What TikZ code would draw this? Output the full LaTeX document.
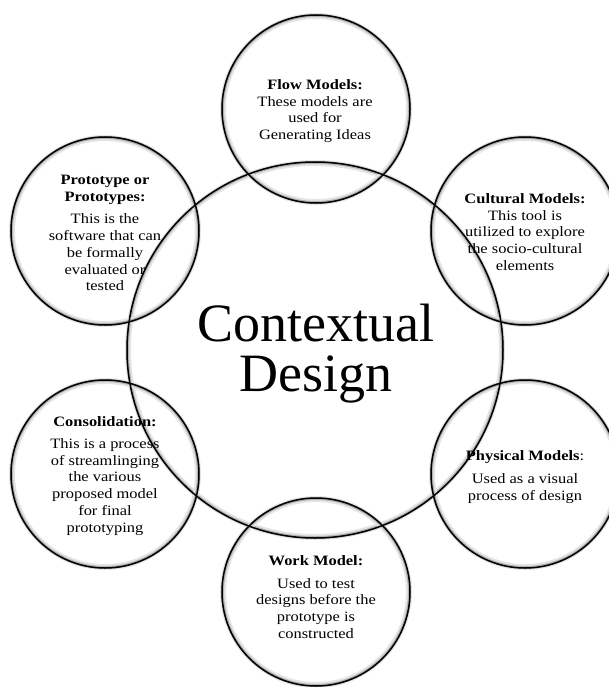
\documentclass[tikz,border=0pt]{standalone}
\usepackage{fontspec}
\setmainfont{Liberation Serif}
\newfontfamily\lblfont[FakeStretch=1.15]{Liberation Serif}
\begin{document}
\begin{tikzpicture}[x=1pt,y=-1pt,
  haloA/.style={draw=black!10, line width=6pt},
  haloB/.style={draw=black!30, line width=3pt},
  ring/.style={circle, draw=black, line width=1.5pt, inner sep=0pt},
  lbl/.style={align=center, font=\lblfont\fontsize{14.3}{16.7}\selectfont, inner sep=0pt},
  big/.style={align=center, font=\fontsize{54}{50}\selectfont, inner sep=0pt}]
\useasboundingbox (0,0) rectangle (609,687);
% soft halos
\foreach \x/\y/\r in {315/350/188, 316/109/94, 525/231/94, 525/474/94, 316/592/94, 105/474/94, 105/231/94}
  {\draw[haloA] (\x,\y) circle (\r-1);
   \draw[haloB] (\x,\y) circle (\r-0.5);}
% rings
\node[ring, minimum size=376pt] (core) at (315,350) {};
\node[ring, minimum size=188pt] (flow) at (316,109) {};
\node[ring, minimum size=188pt] (cult) at (525,231) {};
\node[ring, minimum size=188pt] (phys) at (525,474) {};
\node[ring, minimum size=188pt] (work) at (316,592) {};
\node[ring, minimum size=188pt] (cons) at (105,474) {};
\node[ring, minimum size=188pt] (proto) at (105,231) {};
% texts
\node[big] (coreT) at (316,354) {Contextual\\Design};
\node[lbl] (flowT) at (315,111) {\textbf{Flow Models:}\\These models are\\used for\\Generating Ideas};
\node[lbl] (cultT) at (525,232) {\textbf{Cultural Models:}\\This tool is\\utilized to explore\\the socio-cultural\\elements};
\node[lbl] (physT) at (525,477) {\textbf{Physical Models}:\\[6pt]Used as a visual\\process of design};
\node[lbl] (workT) at (316,597) {\textbf{Work Model:}\\[6pt]Used to test\\designs before the\\prototype is\\constructed};
\node[lbl] (consT) at (105,476) {\textbf{Consolidation:}\\[5pt]This is a process\\of streamlinging\\the various\\proposed model\\for final\\prototyping};
\node[lbl] (protoT) at (105,233) {\textbf{Prototype or}\\\textbf{Prototypes:}\\[6pt]This is the\\software that can\\be formally\\evaluated or\\tested};
\end{tikzpicture}
\end{document}
